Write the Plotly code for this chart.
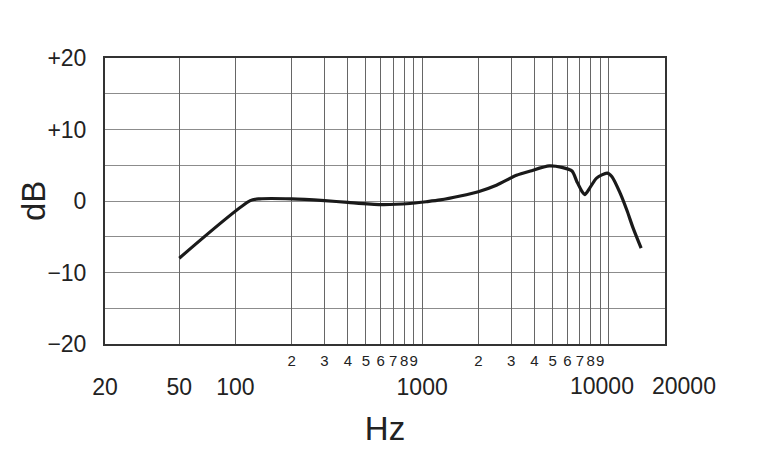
import math
import plotly.graph_objects as go

# ---- data ----
freq_hz = [50, 120, 135, 200, 300, 400, 600, 860, 1050, 1250, 1600, 2000, 2500,
           3200, 3800, 4800, 5600, 6350, 6750, 7200, 7450, 7900, 8600, 9800,
           10400, 11500, 12500, 13500, 14900]
response_db = [-8.0, 0.05, 0.3, 0.3, 0.05, -0.2, -0.5, -0.35, -0.1, 0.15, 0.7, 1.3, 2.2,
               3.6, 4.2, 4.9, 4.7, 4.2, 2.7, 1.3, 0.9, 1.8, 3.2, 3.9,
               3.4, 1.1, -1.3, -3.8, -6.6]

major_x_ticks = [20, 50, 100, 1000]
major_x_labels = ["20", "50", "100", "1000"]
grid_x_ticks = [20, 50, 100, 1000, 10000, 20000]
edge_x_ticks = [10000, 20000]
edge_x_labels = ["10000", "20000"]
minor_x_ticks = [200, 300, 400, 500, 600, 700, 800, 900,
                 2000, 3000, 4000, 5000, 6000, 7000, 8000, 9000]
minor_x_labels = ["2", "3", "4", "5", "6", "7", "8", "9",
                  "2", "3", "4", "5", "6", "7", "8", "9"]
y_ticks = [-20, -15, -10, -5, 0, 5, 10, 15, 20]
y_labels = ["\u221220", "", "\u221210", "", "0", "", "+10", "", "+20"]

x_range = [math.log10(20), math.log10(20000)]
FONT = "Liberation Sans, Arial, sans-serif"
TXT = "#222222"
LABEL_SIZE = 23

fig = go.Figure()
fig.add_trace(go.Scatter(
    x=freq_hz, y=response_db, mode="lines",
    line=dict(color="#1a1a1a", width=3.2, shape="spline", smoothing=0.7),
    hoverinfo="skip", showlegend=False,
))
# invisible traces to host the secondary axes
fig.add_trace(go.Scatter(
    x=[20, 20000], y=[0, 0], xaxis="x2", mode="lines",
    line=dict(width=0), hoverinfo="skip", showlegend=False,
))
fig.add_trace(go.Scatter(
    x=[20, 20000], y=[0, 0], xaxis="x3", mode="lines",
    line=dict(width=0), hoverinfo="skip", showlegend=False,
))

# labels for 10000 and 20000 sit slightly off their grid lines in the reference
for val, txt, shift in zip(edge_x_ticks, edge_x_labels, [-7, 19]):
    fig.add_annotation(
        x=math.log10(val), xref="x", y=0, yref="paper",
        text=txt, showarrow=False, xanchor="center", yanchor="middle",
        xshift=shift, yshift=-42,
        font=dict(size=LABEL_SIZE, color=TXT, family=FONT),
    )

# y-axis title
fig.add_annotation(
    x=0, xref="paper", y=0.5, yref="paper", text="dB", textangle=-90,
    showarrow=False, xanchor="center", yanchor="middle", xshift=-72,
    font=dict(size=33, color=TXT, family=FONT),
)

fig.update_layout(
    width=768, height=461,
    margin=dict(l=105, r=103, t=58, b=117),
    paper_bgcolor="white", plot_bgcolor="white",
    font=dict(family=FONT, color=TXT),
    xaxis=dict(
        type="log", range=x_range, automargin=False,
        tickvals=major_x_ticks, ticktext=major_x_labels,
        tickfont=dict(size=LABEL_SIZE, color=TXT), tickangle=0,
        ticks="", ticklabelstandoff=21,
        showgrid=False,
        showline=True, mirror=True, linecolor="#333333", linewidth=2,
        zeroline=False,
        title=dict(text="Hz", font=dict(size=33, color=TXT), standoff=18),
    ),
    xaxis2=dict(
        type="log", range=x_range, overlaying="x", anchor="y", side="bottom",
        automargin=False,
        tickvals=minor_x_ticks, ticktext=minor_x_labels,
        tickfont=dict(size=15, color=TXT), tickangle=0,
        ticks="", ticklabelstandoff=6,
        showgrid=True, gridcolor="#666666", gridwidth=1,
        showline=False, zeroline=False,
    ),
    xaxis3=dict(
        type="log", range=x_range, overlaying="x", anchor="y", side="bottom",
        automargin=False, tickvals=grid_x_ticks, showticklabels=False, ticks="",
        showgrid=True, gridcolor="#666666", gridwidth=1,
        showline=False, zeroline=False,
    ),
    yaxis=dict(
        range=[-20, 20], automargin=False,
        tickvals=y_ticks, ticktext=y_labels,
        tickfont=dict(size=LABEL_SIZE, color=TXT),
        ticks="", ticklabelstandoff=12,
        showgrid=True, gridcolor="#8c8c8c", gridwidth=1,
        showline=True, mirror=True, linecolor="#333333", linewidth=2,
        zeroline=False,
    ),
)

fig.write_html("out.html")
